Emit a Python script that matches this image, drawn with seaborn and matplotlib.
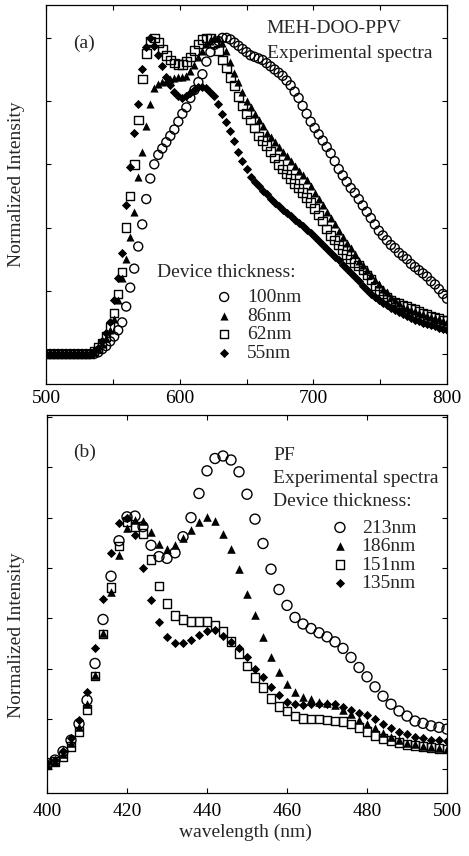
import numpy as np
import matplotlib
matplotlib.use("Agg")
import matplotlib.pyplot as plt
from matplotlib.ticker import MultipleLocator, NullFormatter
import seaborn as sns


wl_a = np.arange(500, 801, 3)

a_100nm = [0, 0, 0, 0, 0, 0, 0, 0, 0, 0, 0, 0, 0,
           0.005, 0.015, 0.025, 0.04, 0.055, 0.075, 0.10, 0.15, 0.21, 0.27,
           0.34, 0.41, 0.49, 0.555, 0.60, 0.63, 0.65, 0.67, 0.69, 0.71,
           0.735, 0.76, 0.78, 0.81, 0.835, 0.86, 0.885, 0.925, 0.955, 0.978,
           0.99, 1.0, 1.0, 0.995, 0.985, 0.975, 0.965, 0.955, 0.945, 0.94,
           0.935, 0.93, 0.92, 0.91, 0.90, 0.89, 0.88, 0.865, 0.85, 0.83,
           0.81, 0.785, 0.76, 0.735, 0.715, 0.695, 0.675, 0.655, 0.635, 0.61,
           0.585, 0.565, 0.545, 0.525, 0.51, 0.49, 0.47, 0.45, 0.43, 0.41,
           0.39, 0.375, 0.36, 0.345, 0.335, 0.32, 0.31, 0.30, 0.285, 0.275,
           0.265, 0.255, 0.245, 0.23, 0.22, 0.205, 0.19, 0.175]

a_86nm = [0, 0, 0, 0, 0, 0, 0, 0, 0, 0, 0, 0,
          0.005, 0.015, 0.03, 0.05, 0.075, 0.11, 0.17, 0.24, 0.30, 0.37,
          0.45, 0.56, 0.64, 0.72, 0.79, 0.84, 0.855, 0.86, 0.865, 0.87,
          0.872, 0.875, 0.877, 0.88, 0.895, 0.915, 0.94, 0.96, 0.98, 0.99,
          1.0, 1.0, 0.985, 0.96, 0.925, 0.89, 0.86, 0.83, 0.80, 0.78,
          0.76, 0.74, 0.72, 0.70, 0.685, 0.67, 0.655, 0.64, 0.625, 0.61,
          0.595, 0.58, 0.565, 0.55, 0.53, 0.51, 0.49, 0.47, 0.45, 0.43,
          0.41, 0.39, 0.37, 0.35, 0.335, 0.315, 0.295, 0.28, 0.265, 0.25,
          0.235, 0.22, 0.205, 0.195, 0.18, 0.17, 0.16, 0.15, 0.145, 0.14,
          0.135, 0.13, 0.125, 0.12, 0.117, 0.113, 0.11, 0.105, 0.10]

a_62nm = [0, 0, 0, 0, 0, 0, 0, 0, 0, 0, 0, 0,
          0.01, 0.02, 0.035, 0.055, 0.085, 0.13, 0.19, 0.26, 0.40, 0.50,
          0.60, 0.74, 0.87, 0.95, 0.99, 1.0, 0.985, 0.965, 0.945, 0.93,
          0.92, 0.915, 0.915, 0.925, 0.94, 0.96, 0.98, 0.995, 1.0, 1.0,
          0.985, 0.96, 0.93, 0.905, 0.875, 0.85, 0.815, 0.785, 0.76, 0.74,
          0.715, 0.69, 0.675, 0.66, 0.64, 0.62, 0.60, 0.585, 0.57, 0.555,
          0.54, 0.525, 0.51, 0.495, 0.48, 0.46, 0.44, 0.42, 0.395, 0.375,
          0.36, 0.345, 0.33, 0.315, 0.30, 0.29, 0.28, 0.265, 0.25, 0.235,
          0.215, 0.20, 0.19, 0.18, 0.17, 0.165, 0.16, 0.155, 0.15, 0.145,
          0.14, 0.135, 0.13, 0.125, 0.12, 0.116, 0.112, 0.108, 0.105]

a_55nm = [0, 0, 0, 0, 0, 0, 0, 0, 0, 0, 0, 0,
          0.01, 0.02, 0.04, 0.065, 0.10, 0.17, 0.24, 0.32, 0.47, 0.59,
          0.70, 0.79, 0.90, 0.97, 1.0, 0.975, 0.945, 0.91, 0.875, 0.85,
          0.83, 0.815, 0.81, 0.815, 0.825, 0.835, 0.845, 0.845, 0.84, 0.83,
          0.815, 0.79, 0.76, 0.735, 0.705, 0.675, 0.64, 0.61, 0.585, 0.56,
          0.545, 0.53, 0.515, 0.505, 0.49, 0.478, 0.467, 0.456, 0.445, 0.435,
          0.425, 0.415, 0.404, 0.393, 0.382, 0.37, 0.358, 0.345, 0.332, 0.32,
          0.308, 0.296, 0.283, 0.27, 0.256, 0.243, 0.23, 0.216, 0.203, 0.19,
          0.18, 0.17, 0.162, 0.154, 0.146, 0.139, 0.132, 0.126, 0.12, 0.114,
          0.109, 0.104, 0.099, 0.095, 0.091, 0.087, 0.083, 0.079, 0.076]

wl_b = np.arange(400, 501, 2)

b_213nm = [0.023, 0.036, 0.07, 0.115, 0.18, 0.274, 0.42, 0.595, 0.767, 0.908, 1.003,
           1.006, 0.964, 0.89, 0.845, 0.838, 0.86, 0.924, 1.0, 1.096, 1.186,
           1.235, 1.245, 1.229, 1.182, 1.093, 0.994, 0.897, 0.795, 0.714, 0.651,
           0.603, 0.577, 0.559, 0.542, 0.526, 0.506, 0.48, 0.444, 0.404, 0.367,
           0.327, 0.29, 0.258, 0.231, 0.211, 0.191, 0.182, 0.172, 0.166, 0.159]

b_186nm = [0.016, 0.03, 0.062, 0.105, 0.168, 0.26, 0.374, 0.54, 0.705, 0.85, 0.957,
           0.99, 0.987, 0.944, 0.897, 0.877, 0.89, 0.917, 0.95, 0.983, 1.003,
           0.987, 0.934, 0.877, 0.795, 0.698, 0.612, 0.526, 0.447, 0.387, 0.34,
           0.307, 0.288, 0.277, 0.268, 0.264, 0.254, 0.237, 0.219, 0.197, 0.179,
           0.162, 0.144, 0.129, 0.115, 0.105, 0.098, 0.091, 0.086, 0.082, 0.078]

b_151nm = [0.016, 0.03, 0.05, 0.09, 0.15, 0.237, 0.37, 0.537, 0.722, 0.887, 0.983,
           0.966, 0.937, 0.834, 0.728, 0.659, 0.612, 0.595, 0.588, 0.588, 0.586,
           0.573, 0.546, 0.506, 0.46, 0.41, 0.363, 0.325, 0.281, 0.25, 0.231,
           0.211, 0.201, 0.199, 0.199, 0.195, 0.191, 0.188, 0.179, 0.166, 0.148,
           0.135, 0.122, 0.113, 0.105, 0.098, 0.093, 0.089, 0.085, 0.082, 0.08]

b_135nm = [0.023, 0.036, 0.072, 0.122, 0.197, 0.307, 0.482, 0.676, 0.86, 0.98, 1.0,
           0.93, 0.80, 0.672, 0.586, 0.526, 0.502, 0.502, 0.513, 0.533, 0.55,
           0.553, 0.529, 0.506, 0.48, 0.444, 0.40, 0.365, 0.327, 0.294, 0.268,
           0.257, 0.254, 0.257, 0.258, 0.26, 0.26, 0.247, 0.237, 0.225, 0.215,
           0.2, 0.18, 0.162, 0.148, 0.138, 0.129, 0.122, 0.115, 0.115, 0.113]


sns.set_theme(style="ticks")
plt.rcParams['font.family'] = ['Liberation Serif', 'DejaVu Serif']
plt.rcParams['font.size'] = 14

open_kw = dict(color='none', edgecolor='black', linewidth=1.0)
fill_kw = dict(color='black', edgecolor='black', linewidth=0)

fig = plt.figure(figsize=(4.69, 8.56), dpi=100)
ax_a = fig.add_axes([46/469, 1 - 384/856, 401/469, 379/856])
ax_b = fig.add_axes([47/469, 1 - 793/856, 400/469, 378/856])

# panel a
sns.scatterplot(x=wl_a, y=a_100nm, marker='o', s=42, label='100nm', ax=ax_a, **open_kw)
sns.scatterplot(x=wl_a, y=a_86nm, marker='^', s=34, label='86nm', ax=ax_a, **fill_kw)
sns.scatterplot(x=wl_a, y=a_62nm, marker='s', s=38, label='62nm', ax=ax_a, **open_kw)
sns.scatterplot(x=wl_a, y=a_55nm, marker='D', s=22, label='55nm', ax=ax_a, **fill_kw)

# panel b
sns.scatterplot(x=wl_b, y=b_213nm, marker='o', s=52, label='213nm', ax=ax_b, **open_kw)
sns.scatterplot(x=wl_b, y=b_186nm, marker='^', s=38, label='186nm', ax=ax_b, **fill_kw)
sns.scatterplot(x=wl_b, y=b_151nm, marker='s', s=40, label='151nm', ax=ax_b, **open_kw)
sns.scatterplot(x=wl_b, y=b_135nm, marker='D', s=22, label='135nm', ax=ax_b, **fill_kw)

ax_a.set_xlim(500, 800)
ax_a.set_ylim(-0.095, 1.104)
ax_a.xaxis.set_major_locator(MultipleLocator(100))
ax_a.xaxis.set_minor_locator(MultipleLocator(50))

ax_b.set_xlim(400, 500)
ax_b.set_ylim(-0.095, 1.408)
ax_b.xaxis.set_major_locator(MultipleLocator(20))

for ax in (ax_a, ax_b):
    ax.yaxis.set_major_locator(MultipleLocator(0.2))
    ax.yaxis.set_major_formatter(NullFormatter())
    ax.tick_params(which='both', direction='in', top=True, right=True,
                   length=3.6, width=0.8, labelsize=14, colors='black')
    for sp in ax.spines.values():
        sp.set_linewidth(0.9)
        sp.set_color('black')
    ax.set_ylabel('Normalized Intensity', fontsize=14)

ax_a.tick_params(axis='x', pad=4)
ax_b.tick_params(axis='x', pad=7)
ax_a.yaxis.set_label_coords(-0.052, 0.528)
ax_b.yaxis.set_label_coords(-0.055, 0.418)
ax_b.set_xlabel('wavelength (nm)', fontsize=14)
ax_b.xaxis.set_label_coords(0.497, -0.082)

# annotations
ax_a.text(0.067, 0.90, '(a)', transform=ax_a.transAxes, va='center', ha='left', fontsize=14)
ax_a.text(0.55, 0.939, 'MEH-DOO-PPV', transform=ax_a.transAxes, va='center', ha='left', fontsize=14)
ax_a.text(0.55, 0.873, 'Experimental spectra', transform=ax_a.transAxes, va='center', ha='left', fontsize=14)
ax_a.text(0.277, 0.293, 'Device thickness:', transform=ax_a.transAxes, va='center', ha='left', fontsize=14)

ax_b.text(0.065, 0.90, '(b)', transform=ax_b.transAxes, va='center', ha='left', fontsize=14)
ax_b.text(0.566, 0.894, 'PF', transform=ax_b.transAxes, va='center', ha='left', fontsize=14)
ax_b.text(0.566, 0.831, 'Experimental spectra', transform=ax_b.transAxes, va='center', ha='left', fontsize=14)
ax_b.text(0.566, 0.77, 'Device thickness:', transform=ax_b.transAxes, va='center', ha='left', fontsize=14)

ax_a.legend(loc='upper left', bbox_to_anchor=(0.42, 0.252), frameon=False,
            borderpad=0, borderaxespad=0, handlelength=1.0, handletextpad=0.67,
            labelspacing=0.05, fontsize=14)
ax_b.legend(loc='upper left', bbox_to_anchor=(0.708, 0.725), frameon=False,
            borderpad=0, borderaxespad=0, handlelength=1.0, handletextpad=0.62,
            labelspacing=0.05, fontsize=14)

fig.savefig('out.png', dpi=100)
